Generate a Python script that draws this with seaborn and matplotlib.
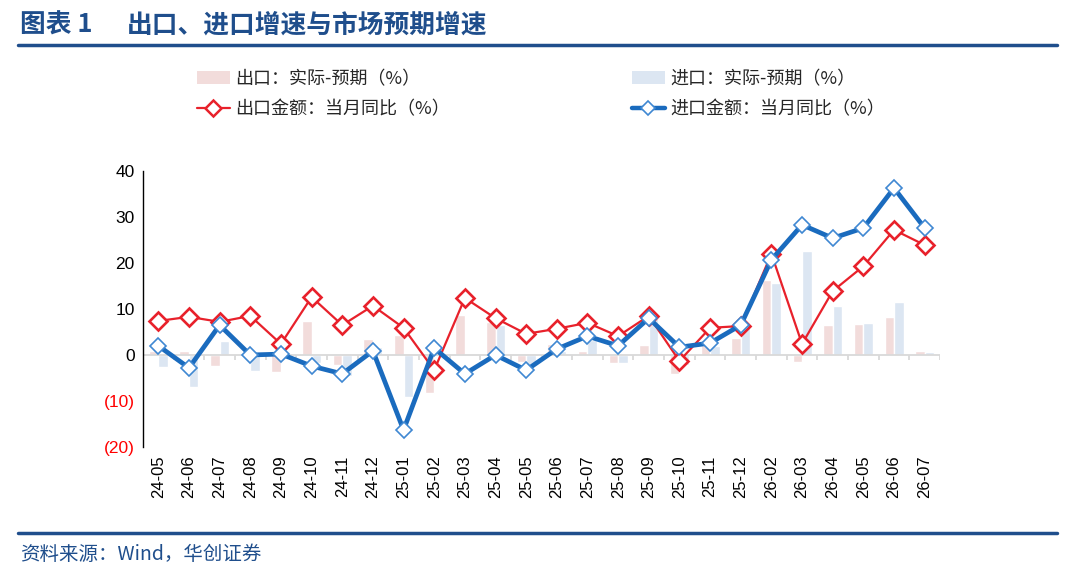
import numpy as np
import pandas as pd
import matplotlib
matplotlib.use("Agg")
import matplotlib.pyplot as plt
import seaborn as sns
from matplotlib.patches import Patch
from matplotlib.lines import Line2D
from matplotlib.font_manager import FontProperties

months = ["24-05", "24-06", "24-07", "24-08", "24-09", "24-10", "24-11", "24-12",
          "25-01", "25-02", "25-03", "25-04", "25-05", "25-06", "25-07", "25-08",
          "25-09", "25-10", "25-11", "25-12", "26-02", "26-03", "26-04", "26-05",
          "26-06", "26-07"]
export_surprise = [0.9, 0.9, -2.4, 0.3, -3.6, 7.4, -2.1, 3.5, 4.3, -8.2, 8.7, 7.2, -1.6,
                   2.4, 0.9, -1.7, 2.2, -4.1, 2.2, 3.6, 16.4, -1.6, 6.6, 6.7, 8.3, 0.8]
import_surprise = [-2.5, -7.0, 3.0, -3.4, 0.0, -1.8, -4.6, 1.8, -9.2, 0.0, 0.0, 6.5, -2.2,
                   0.8, 3.3, -1.7, 8.0, -2.1, 1.9, 6.3, 15.6, 22.7, 10.7, 6.9, 11.6, 0.6]
export_yoy = [7.4, 8.3, 7.2, 8.5, 2.4, 12.6, 6.5, 10.7, 5.9, -3.3, 12.4, 8.0, 4.6,
              5.7, 7.0, 4.1, 8.5, -1.3, 5.9, 6.3, 22.0, 2.4, 13.9, 19.3, 27.2, 23.9]
import_yoy = [2.0, -2.8, 6.5, 0.0, 0.2, -2.4, -4.1, 0.9, -16.3, 1.5, -4.1, 0.0, -3.3,
              1.3, 4.1, 2.0, 8.0, 1.7, 2.6, 6.5, 20.7, 28.3, 25.4, 27.6, 36.3, 27.6]
y_ticks = [-20, -10, 0, 10, 20, 30, 40]

legend_labels = ["出口：实际-预期（%）", "出口金额：当月同比（%）",
                 "进口：实际-预期（%）", "进口金额：当月同比（%）"]
title_label = "图表 1"
title_text = "出口、进口增速与市场预期增速"
source_text = "资料来源：Wind，华创证券"

PINK = "#F2DCDB"
LBLUE = "#DCE6F2"
RED = "#E8212B"
BLUE = "#1A6BBE"
BLUE_EDGE = "#3F88D2"
NAVY = "#1F4E8C"

sns.set_theme(style="white")
plt.rcParams['font.family'] = ['Liberation Sans', 'Noto Sans CJK SC', 'DejaVu Sans']

fig = plt.figure(figsize=(10.8, 5.79), dpi=100)
ax = fig.add_axes([143 / 1080, 1 - 447 / 579, (940 - 143) / 1080, (447 - 171) / 579])

n = len(months)
bars_df = pd.DataFrame({
    "month": months * 2,
    "value": export_surprise + import_surprise,
    "series": ["出口"] * n + ["进口"] * n,
})
sns.barplot(data=bars_df, x="month", y="value", hue="series", order=months,
            palette=[PINK, LBLUE], saturation=1, width=0.62, gap=0,
            ax=ax, legend=False, zorder=1)

ax.axhline(0, color="#D9D9D9", lw=1.3, zorder=2)
ax.vlines(np.arange(n + 1) - 0.5, -1.1, 0, color="#D9D9D9", lw=1.3, zorder=2)

sns.pointplot(x=months, y=export_yoy, order=months, color=RED, markers="D",
              linestyles="-", errorbar=None, ax=ax, markersize=9.5, linewidth=1.6,
              markerfacecolor="white", markeredgecolor=RED, markeredgewidth=1.9,
              zorder=4)
sns.pointplot(x=months, y=import_yoy, order=months, color=BLUE, markers="D",
              linestyles="-", errorbar=None, ax=ax, markersize=8.5, linewidth=3.4,
              markerfacecolor="white", markeredgecolor=BLUE_EDGE, markeredgewidth=1.2,
              zorder=5)

ax.set_xlim(-0.5, n - 0.5)
ax.set_ylim(-20, 40)
ax.set_yticks(y_ticks)
ax.set_yticklabels([f"({abs(v)})" if v < 0 else str(v) for v in y_ticks])
for lbl, v in zip(ax.get_yticklabels(), y_ticks):
    lbl.set_color("#FF0000" if v < 0 else "#000000")
ax.set_xticks(range(n))
ax.set_xticklabels(months, rotation=90)
ax.tick_params(axis="x", length=0, pad=6, labelsize=12, labelcolor="black")
ax.tick_params(axis="y", direction="in", length=4, width=1, color="black",
               pad=6, labelsize=12.5)
ax.set_xlabel("")
ax.set_ylabel("")
for s in ["top", "right", "bottom"]:
    ax.spines[s].set_visible(False)
ax.spines["left"].set_color("black")
ax.spines["left"].set_linewidth(1)

# legends
lp = FontProperties(family="Noto Sans CJK SC", size=13)
h_exp_bar = Patch(facecolor=PINK, edgecolor="none")
h_exp_line = Line2D([], [], color=RED, marker="D", mfc="white", mec=RED, lw=1.6, ms=8, mew=1.8)
h_imp_bar = Patch(facecolor=LBLUE, edgecolor="none")
h_imp_line = Line2D([], [], color=BLUE, marker="D", mfc="white", mec=BLUE_EDGE, lw=3.2, ms=7.5, mew=1.2)
common = dict(loc="upper left", frameon=False, prop=lp, handlelength=1.8,
              handletextpad=0.3, labelspacing=0.66, borderaxespad=0, borderpad=0,
              labelcolor="#262626")
fig.legend([h_exp_bar, h_exp_line], legend_labels[:2],
           bbox_to_anchor=(197 / 1080, 1 - 70 / 579), **common)
fig.legend([h_imp_bar, h_imp_line], legend_labels[2:],
           bbox_to_anchor=(632 / 1080, 1 - 70 / 579), **common)

# title, rules, source
tfam = ["Noto Sans CJK SC", "DejaVu Sans"]
fig.text(20 / 1080, 1 - 25 / 579, title_label, fontsize=18.5, fontweight="bold",
         color=NAVY, va="center", ha="left", family=tfam)
fig.text(127 / 1080, 1 - 25 / 579, title_text, fontsize=18.5, fontweight="bold",
         color=NAVY, va="center", ha="left", family=tfam)
for yy in (45, 533):
    fig.add_artist(Line2D([18 / 1080, 1057 / 1080], [1 - yy / 579] * 2,
                          transform=fig.transFigure, color=NAVY, lw=2.5))
fig.text(20 / 1080, 1 - 555 / 579, source_text, fontsize=14, style="italic",
         color=NAVY, va="center", ha="left", family=tfam)

fig.savefig("out.png", dpi=100)
